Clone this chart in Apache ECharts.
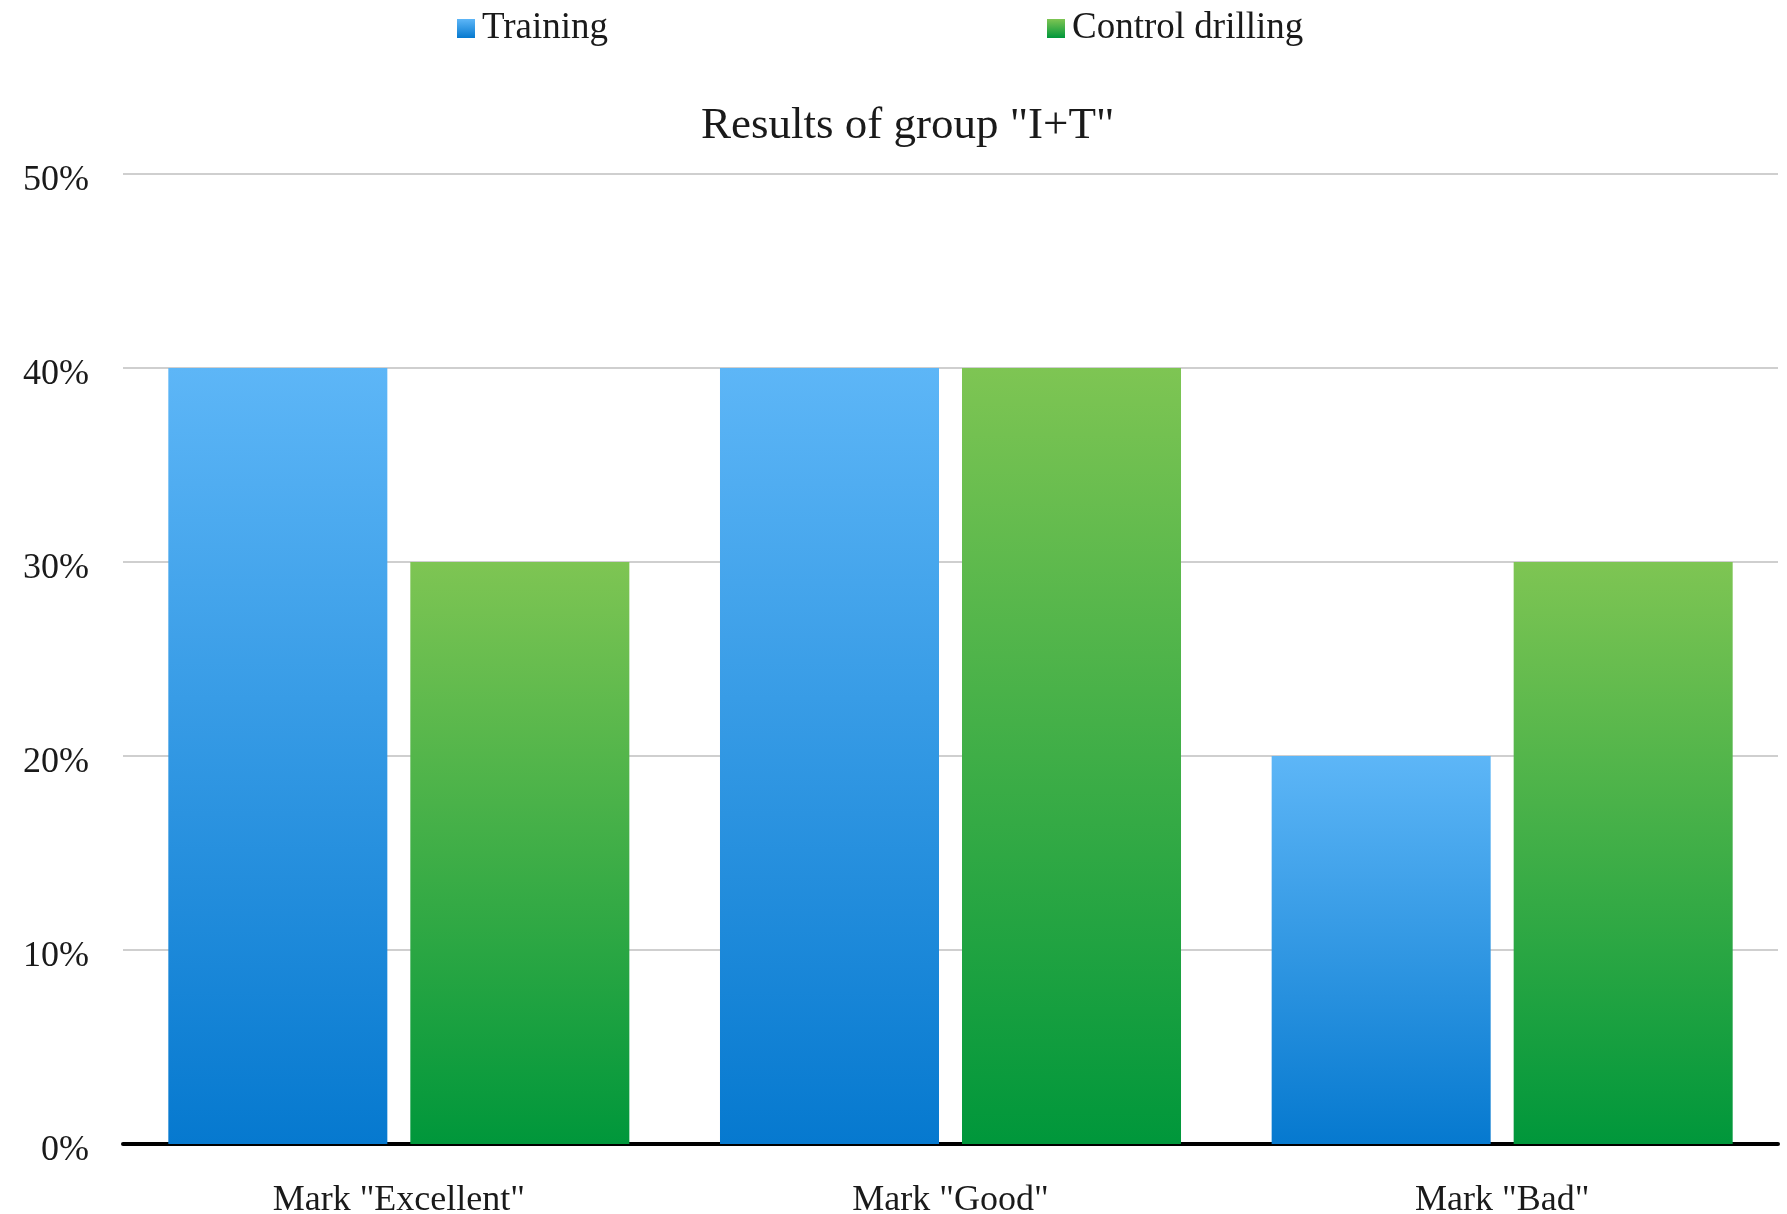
<!DOCTYPE html>
<html>
<head>
<meta charset="utf-8">
<script src="https://cdn.jsdelivr.net/npm/echarts@6/dist/echarts.min.js"></script>
<style>
html,body{margin:0;padding:0;background:#fff;}
#chart{width:1787px;height:1214px;}
</style>
</head>
<body>
<div id="chart"></div>
<script>
const categories = ['Mark "Excellent"', 'Mark "Good"', 'Mark "Bad"'];
const training = [40, 40, 20];
const controlDrilling = [30, 40, 30];
const yTicks = { min: 0, max: 50, interval: 10 };
const titleText = 'Results of group "I+T"';

const FONT = '"Liberation Serif", "Times New Roman", serif';
const blueGrad = new echarts.graphic.LinearGradient(0, 0, 0, 1, [
  { offset: 0, color: '#5db6f7' },
  { offset: 1, color: '#0679cf' }
]);
const greenGrad = new echarts.graphic.LinearGradient(0, 0, 0, 1, [
  { offset: 0, color: '#7ec553' },
  { offset: 1, color: '#00973b' }
]);

const chart = echarts.init(document.getElementById('chart'));
chart.setOption({
  animation: false,
  backgroundColor: '#ffffff',
  title: {
    text: titleText,
    left: 701,
    top: 104,
    padding: 0,
    textStyle: { fontFamily: FONT, fontSize: 45, fontWeight: 'normal', color: '#1a1a1a' }
  },
  legend: [
    {
      data: ['Training'],
      left: 452, top: 5,
      icon: 'rect', itemWidth: 18, itemHeight: 19,
      textStyle: { fontFamily: FONT, fontSize: 37, color: '#1a1a1a', padding: [0, 0, 0, 2] }
    },
    {
      data: ['Control drilling'],
      left: 1042, top: 5,
      icon: 'rect', itemWidth: 18, itemHeight: 19,
      textStyle: { fontFamily: FONT, fontSize: 37, color: '#1a1a1a', padding: [0, 0, 0, 2] }
    }
  ],
  grid: { left: 123, right: 9, top: 174, bottom: 70, containLabel: false, outerBoundsMode: 'none' },
  xAxis: {
    type: 'category',
    data: categories,
    axisTick: { show: false },
    axisLine: { show: true, lineStyle: { color: '#000', width: 4 } },
    axisLabel: { fontFamily: FONT, fontSize: 36, color: '#1a1a1a', margin: 39 }
  },
  yAxis: {
    type: 'value',
    min: yTicks.min, max: yTicks.max, interval: yTicks.interval,
    axisLine: { show: false },
    axisTick: { show: false },
    axisLabel: {
      formatter: '{v|{value}%}',
      margin: 34,
      rich: { v: { fontFamily: FONT, fontSize: 36, color: '#1a1a1a', padding: [14, 0, 0, 0] } }
    },
    splitLine: { lineStyle: { color: '#cfcfcf', width: 2 } }
  },
  series: [
    {
      name: 'Training', type: 'bar', data: training,
      barWidth: '39.7%', barGap: '10.5%',
      itemStyle: { color: blueGrad }
    },
    {
      name: 'Control drilling', type: 'bar', data: controlDrilling,
      barWidth: '39.7%', barGap: '10.5%',
      itemStyle: { color: greenGrad }
    }
  ]
});
</script>
</body>
</html>
